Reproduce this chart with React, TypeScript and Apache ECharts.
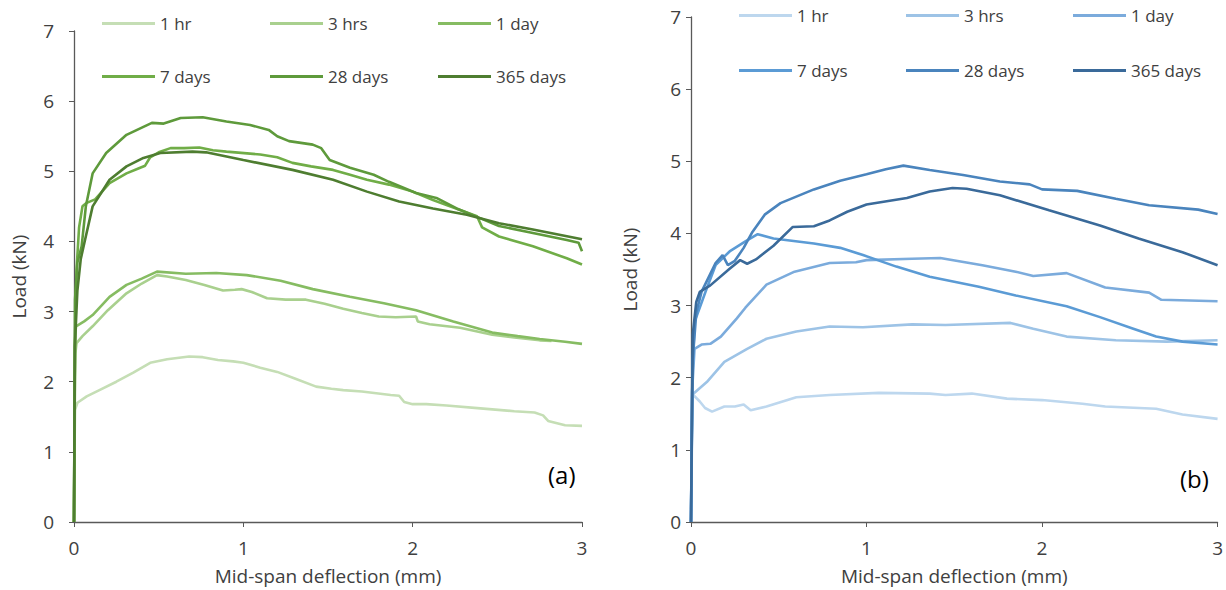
import React, { useEffect, useRef } from 'react';
import * as echarts from 'echarts';

// ---- Data: (mid-span deflection mm, load kN) ----
const seriesLabels = ['1 hr', '3 hrs', '1 day', '7 days', '28 days', '365 days'];

const greenColors = ['#C5DEB5', '#A9D08E', '#86BC62', '#70AD47', '#5E9A3B', '#4E7D30'];
const blueColors = ['#BDD7EE', '#9DC3E6', '#7BABDC', '#5B9BD5', '#4A84BD', '#3A6A9A'];

const xTicks = [0, 1, 2, 3];
const yTicks = [0, 1, 2, 3, 4, 5, 6, 7];

const a1hr: [number, number][] = [[0,0],[0.003,1.0],[0.006,1.6],[0.02,1.7],[0.075,1.79],[0.15,1.88],[0.25,2.0],[0.35,2.13],[0.45,2.27],[0.55,2.32],[0.68,2.36],[0.76,2.35],[0.85,2.31],[0.94,2.29],[1.0,2.27],[1.1,2.2],[1.2,2.14],[1.3,2.05],[1.43,1.93],[1.52,1.9],[1.59,1.88],[1.7,1.86],[1.87,1.81],[1.92,1.8],[1.95,1.71],[2.0,1.68],[2.08,1.68],[2.2,1.66],[2.4,1.62],[2.6,1.58],[2.72,1.56],[2.77,1.52],[2.8,1.44],[2.9,1.38],[3.0,1.37]];
const a3hrs: [number, number][] = [[0,0],[0.004,1.5],[0.008,2.4],[0.015,2.55],[0.05,2.65],[0.11,2.79],[0.2,3.02],[0.31,3.26],[0.4,3.4],[0.49,3.52],[0.55,3.5],[0.66,3.45],[0.77,3.38],[0.88,3.3],[0.95,3.31],[0.99,3.32],[1.05,3.28],[1.14,3.19],[1.25,3.17],[1.37,3.17],[1.48,3.11],[1.59,3.04],[1.7,2.98],[1.8,2.93],[1.9,2.92],[2.02,2.93],[2.03,2.86],[2.1,2.82],[2.28,2.77],[2.47,2.67],[2.6,2.63],[2.75,2.59],[2.82,2.58]];
const a1day: [number, number][] = [[0,0],[0.004,1.8],[0.008,2.7],[0.012,2.79],[0.06,2.86],[0.11,2.95],[0.21,3.21],[0.31,3.38],[0.4,3.47],[0.49,3.57],[0.66,3.54],[0.84,3.55],[1.02,3.52],[1.22,3.44],[1.41,3.32],[1.63,3.21],[1.83,3.12],[2.02,3.02],[2.24,2.86],[2.47,2.70],[2.62,2.65],[2.75,2.61],[2.9,2.57],[3.0,2.54]];
const a7days: [number, number][] = [[0,0],[0.005,2.5],[0.015,3.6],[0.03,4.2],[0.05,4.5],[0.075,4.55],[0.125,4.6],[0.21,4.83],[0.31,4.97],[0.38,5.04],[0.42,5.08],[0.45,5.2],[0.5,5.27],[0.57,5.33],[0.65,5.33],[0.74,5.34],[0.82,5.3],[0.9,5.28],[1.1,5.24],[1.2,5.2],[1.29,5.12],[1.4,5.07],[1.53,5.02],[1.63,4.95],[1.73,4.88],[1.86,4.81],[2.0,4.71],[2.12,4.59],[2.22,4.5],[2.3,4.43],[2.38,4.36],[2.41,4.2],[2.51,4.07],[2.71,3.93],[2.91,3.76],[3.0,3.67]];
const a28days: [number, number][] = [[0,0],[0.004,2.0],[0.006,3.17],[0.02,3.7],[0.045,3.93],[0.07,4.5],[0.11,4.97],[0.19,5.26],[0.31,5.52],[0.46,5.69],[0.53,5.68],[0.63,5.76],[0.76,5.77],[0.9,5.71],[1.04,5.66],[1.15,5.59],[1.2,5.5],[1.27,5.43],[1.41,5.38],[1.46,5.33],[1.51,5.16],[1.63,5.05],[1.77,4.95],[1.86,4.85],[2.02,4.69],[2.14,4.62],[2.26,4.47],[2.38,4.35],[2.51,4.22],[2.71,4.12],[2.91,4.02],[2.98,3.98],[3.0,3.86]];
const a365days: [number, number][] = [[0,0],[0.005,2.5],[0.02,3.3],[0.04,3.75],[0.065,4.02],[0.11,4.5],[0.21,4.88],[0.31,5.07],[0.41,5.19],[0.51,5.26],[0.7,5.28],[0.78,5.27],[1.0,5.16],[1.29,5.02],[1.53,4.88],[1.73,4.71],[1.92,4.57],[2.12,4.47],[2.32,4.38],[2.51,4.26],[2.71,4.17],[3.0,4.03]];

const b1hr: [number, number][] = [[0,0],[0.005,1.0],[0.01,1.77],[0.05,1.67],[0.08,1.58],[0.12,1.53],[0.19,1.6],[0.25,1.6],[0.3,1.63],[0.34,1.55],[0.43,1.6],[0.6,1.73],[0.79,1.76],[1.07,1.79],[1.36,1.78],[1.45,1.76],[1.6,1.78],[1.8,1.71],[2.0,1.69],[2.23,1.64],[2.36,1.60],[2.65,1.57],[2.8,1.49],[3.0,1.43]];
const b3hrs: [number, number][] = [[0,0],[0.005,1.2],[0.01,1.77],[0.09,1.94],[0.19,2.22],[0.32,2.40],[0.43,2.54],[0.6,2.64],[0.79,2.71],[0.98,2.70],[1.26,2.74],[1.45,2.73],[1.82,2.76],[1.95,2.68],[2.14,2.57],[2.42,2.52],[2.71,2.50],[3.0,2.52]];
const b1day: [number, number][] = [[0,0],[0.006,1.8],[0.02,2.40],[0.06,2.46],[0.11,2.47],[0.17,2.57],[0.26,2.82],[0.31,2.97],[0.43,3.29],[0.59,3.47],[0.79,3.59],[0.94,3.6],[1.0,3.63],[1.26,3.65],[1.42,3.66],[1.66,3.56],[1.85,3.47],[1.95,3.41],[2.14,3.45],[2.36,3.25],[2.61,3.18],[2.68,3.08],[3.0,3.06]];
const b7days: [number, number][] = [[0,0],[0.008,2.0],[0.02,2.77],[0.09,3.24],[0.14,3.56],[0.22,3.75],[0.31,3.89],[0.38,3.99],[0.47,3.93],[0.7,3.86],[0.85,3.8],[0.98,3.7],[1.17,3.54],[1.36,3.4],[1.64,3.26],[1.85,3.14],[2.14,2.99],[2.33,2.84],[2.52,2.68],[2.65,2.57],[2.8,2.5],[3.0,2.46]];
const b28days: [number, number][] = [[0,0],[0.008,2.2],[0.03,2.9],[0.06,3.19],[0.14,3.59],[0.18,3.70],[0.21,3.56],[0.25,3.62],[0.3,3.8],[0.35,4.02],[0.42,4.26],[0.51,4.42],[0.7,4.61],[0.85,4.73],[1.0,4.82],[1.11,4.89],[1.21,4.94],[1.36,4.88],[1.55,4.81],[1.76,4.72],[1.93,4.68],[2.0,4.61],[2.2,4.59],[2.42,4.48],[2.61,4.39],[2.89,4.33],[3.0,4.27]];
const b365days: [number, number][] = [[0,0],[0.01,2.6],[0.03,3.05],[0.05,3.19],[0.11,3.28],[0.22,3.51],[0.28,3.63],[0.32,3.58],[0.37,3.64],[0.47,3.83],[0.58,4.09],[0.7,4.1],[0.79,4.18],[0.89,4.3],[1.0,4.4],[1.23,4.49],[1.36,4.58],[1.49,4.63],[1.57,4.62],[1.76,4.53],[2.04,4.32],[2.33,4.11],[2.55,3.93],[2.8,3.74],[3.0,3.56]];

const panelA = [a1hr, a3hrs, a1day, a7days, a28days, a365days];
const panelB = [b1hr, b3hrs, b1day, b7days, b28days, b365days];

const FONT = '"Open Sans", "Noto Sans", sans-serif';
const TEXT = '#404040';
const AXIS = '#595959';

function makeAxes(gridIndex: number, labelMargin: number, nameGap: number) {
  const x = {
    type: 'value', gridIndex, min: xTicks[0], max: xTicks[xTicks.length - 1], interval: 1,
    name: 'Mid-span deflection (mm)', nameLocation: 'middle', nameGap: 44,
    nameTextStyle: { fontFamily: FONT, fontSize: 19, color: TEXT },
    axisLine: { show: true, lineStyle: { color: AXIS, width: 1.3 } },
    axisTick: { show: true, inside: false, length: 5, lineStyle: { color: AXIS } },
    axisLabel: { fontFamily: FONT, fontSize: 19, color: TEXT, margin: 16 },
    splitLine: { show: false },
  };
  const y = {
    type: 'value', gridIndex, min: yTicks[0], max: yTicks[yTicks.length - 1], interval: 1,
    name: 'Load (kN)', nameLocation: 'middle', nameGap,
    nameTextStyle: { fontFamily: FONT, fontSize: 19, color: TEXT },
    axisLine: { show: true, lineStyle: { color: AXIS, width: 1.3 } },
    axisTick: { show: true, inside: false, length: 5, lineStyle: { color: AXIS } },
    axisLabel: { fontFamily: FONT, fontSize: 19, color: TEXT, margin: labelMargin },
    splitLine: { show: false },
  };
  return { x, y };
}

export default function App() {
  const ref = useRef<HTMLDivElement>(null);
  useEffect(() => {
    if (!ref.current) return;
    const chart = echarts.init(ref.current, undefined, { renderer: 'svg' });
    const axA = makeAxes(0, 20, 46);
    const axB = makeAxes(1, 10, 52);

    const series: any[] = [];
    seriesLabels.forEach((lab, i) => {
      series.push({
        name: 'a|' + lab, type: 'line', xAxisIndex: 0, yAxisIndex: 0,
        data: panelA[i], symbol: 'none', showSymbol: false,
        lineStyle: { color: greenColors[i], width: 2.6 }, itemStyle: { color: greenColors[i] },
      });
    });
    seriesLabels.forEach((lab, i) => {
      series.push({
        name: 'b|' + lab, type: 'line', xAxisIndex: 1, yAxisIndex: 1,
        data: panelB[i], symbol: 'none', showSymbol: false,
        lineStyle: { color: blueColors[i], width: 2.6 }, itemStyle: { color: blueColors[i] },
      });
    });

    const legendPos = (panel: string) => {
      const cols = panel === 'a' ? [102, 270, 438] : [739, 906, 1073];
      const rows = panel === 'a' ? [15, 68] : [7, 62];
      return seriesLabels.map((lab, i) => ({
        data: [panel + '|' + lab],
        left: cols[i % 3], top: rows[Math.floor(i / 3)],
        icon: 'rect', itemWidth: 53, itemHeight: 3, padding: 0,
        formatter: (n: string) => n.split('|')[1],
        textStyle: { fontFamily: FONT, fontSize: 17, color: TEXT },
        selectedMode: false,
      }));
    };

    chart.setOption({
      animation: false,
      backgroundColor: '#ffffff',
      grid: [
        { left: 74, top: 31, width: 508, height: 491 },
        { left: 691, top: 17, width: 527, height: 505 },
      ],
      xAxis: [axA.x, axB.x],
      yAxis: [axA.y, axB.y],
      legend: [...legendPos('a'), ...legendPos('b')],
      series,
      graphic: [
        { type: 'text', left: 548, top: 462, style: { text: '(a)', fontFamily: FONT, fontSize: 24, fill: '#000000' } },
        { type: 'text', left: 1180, top: 466, style: { text: '(b)', fontFamily: FONT, fontSize: 24, fill: '#000000' } },
      ],
    });
    return () => chart.dispose();
  }, []);
  return (
    <div
      ref={ref}
      style={{ position: 'fixed', left: 0, top: 0, width: 1226, height: 590, background: '#fff' }}
    />
  );
}
